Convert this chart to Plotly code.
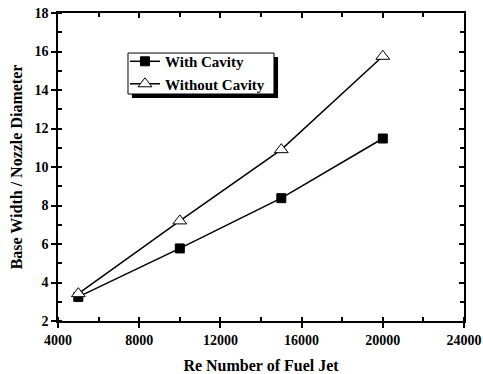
import plotly.graph_objects as go

re_numbers = [5000, 10000, 15000, 20000]
with_cavity = [3.25, 5.77, 8.38, 11.48]
without_cavity = [3.42, 7.2, 10.9, 15.75]

x_ticks = [4000, 8000, 12000, 16000, 20000, 24000]
y_ticks = [2, 4, 6, 8, 10, 12, 14, 16, 18]

FONT = "Liberation Serif"

fig = go.Figure()
fig.add_trace(go.Scatter(
    x=re_numbers, y=with_cavity, name="<b>With Cavity</b>", mode="lines+markers",
    line=dict(color="black", width=1.5),
    marker=dict(symbol="square", size=9, color="black", line=dict(color="black", width=1)),
))
fig.add_trace(go.Scatter(
    x=re_numbers, y=without_cavity, name="<b>Without Cavity</b>", mode="lines+markers",
    line=dict(color="black", width=1.5),
    marker=dict(symbol="triangle-up", size=12, color="white", line=dict(color="black", width=1)),
))
# mirrored axes for inside ticks on top/right
fig.add_trace(go.Scatter(x=[], y=[], xaxis="x2", yaxis="y2", showlegend=False))

axis_common = dict(showgrid=False, zeroline=False, showline=True, linecolor="black",
                   linewidth=1.5, automargin=False)

fig.update_layout(
    width=483, height=374,
    margin=dict(l=58, r=19, t=13, b=53),
    paper_bgcolor="white", plot_bgcolor="white",
    font=dict(family=FONT, color="black"),
    showlegend=True,
    xaxis=dict(
        range=[4000, 24000], tickvals=x_ticks, ticktext=["<b>%d</b>" % v for v in x_ticks],
        ticks="outside", ticklen=5, tickwidth=1.5, tickcolor="black",
        minor=dict(dtick=2000, tick0=4000, ticks="inside", ticklen=4, tickwidth=1.5, tickcolor="black"),
        tickfont=dict(family=FONT, size=14, color="black"),
        title=dict(text="<b>Re Number of Fuel Jet</b>", font=dict(family=FONT, size=16), standoff=14),
        **axis_common,
    ),
    yaxis=dict(
        range=[2, 18], tickvals=y_ticks, ticktext=["<b>%d</b>" % v for v in y_ticks],
        ticks="outside", ticklen=5, tickwidth=1.5, tickcolor="black",
        minor=dict(dtick=1, tick0=2, ticks="inside", ticklen=4, tickwidth=1.5, tickcolor="black"),
        tickfont=dict(family=FONT, size=14, color="black"),
        title=dict(text="<b>Base Width / Nozzle Diameter</b>", font=dict(family=FONT, size=16), standoff=8),
        **axis_common,
    ),
    xaxis2=dict(
        overlaying="x", side="top", matches="x", range=[4000, 24000], tickvals=x_ticks,
        showticklabels=False, ticks="inside", ticklen=5, tickwidth=1.5, tickcolor="black",
        minor=dict(dtick=2000, tick0=4000, ticks="inside", ticklen=4, tickwidth=1.5, tickcolor="black"),
        **axis_common,
    ),
    yaxis2=dict(
        overlaying="y", side="right", matches="y", range=[2, 18], tickvals=y_ticks,
        showticklabels=False, ticks="inside", ticklen=5, tickwidth=1.5, tickcolor="black",
        minor=dict(dtick=1, tick0=2, ticks="inside", ticklen=4, tickwidth=1.5, tickcolor="black"),
        **axis_common,
    ),
    legend=dict(
        x=0.165, y=0.896, xanchor="left", yanchor="top",
        bgcolor="rgba(0,0,0,0)", borderwidth=0,
        font=dict(family=FONT, size=15, color="black"),
        tracegroupgap=0, itemwidth=30,
    ),
)

# legend drop shadow and frame
fig.add_shape(type="rect", xref="paper", yref="paper",
              x0=0.182, x1=0.542, y0=0.724, y1=0.857,
              fillcolor="black", line=dict(width=0), layer="above")
fig.add_shape(type="rect", xref="paper", yref="paper",
              x0=0.1724, x1=0.532, y0=0.737, y1=0.870,
              fillcolor="white", line=dict(color="black", width=1), layer="above")

fig.write_html("out.html", post_script="document.body.style.margin='0';",
               config={"displayModeBar": False})
